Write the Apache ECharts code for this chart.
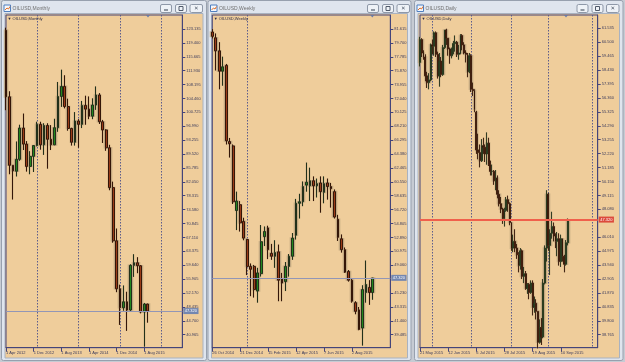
<!DOCTYPE html>
<html>
<head>
<meta charset="utf-8">
<script src="https://cdn.jsdelivr.net/npm/echarts@6/dist/echarts.min.js"></script>
<style>
  html, body { margin: 0; padding: 0; background: #c6cbd3; }
  #chart { width: 625px; height: 362px; }
</style>
</head>
<body>
<div id="chart"></div>
<script>
// tick labels
const monthTicks = ['1 Apr 2012', '1 Dec 2012', '1 Aug 2013', '1 Apr 2014', '1 Dec 2014', '1 Aug 2015'];
const weekTicks = ['26 Oct 2014', '21 Dec 2014', '15 Feb 2015', '12 Apr 2015', '7 Jun 2015', '2 Aug 2015'];
const dayTicks = ['21 May 2015', '12 Jun 2015', '6 Jul 2015', '28 Jul 2015', '19 Aug 2015', '10 Sep 2015'];

const monthLevels = [40.965, 44.700, 48.435, 52.170, 55.905, 59.640, 63.375, 67.110, 70.845, 74.580, 78.315,
  82.050, 85.785, 89.520, 93.255, 96.990, 100.725, 104.460, 108.195, 111.930, 115.665, 119.400, 123.135];
const weekLevels = [39.485, 41.400, 43.315, 45.230, 49.060, 50.975, 52.890, 54.805, 56.720, 58.635, 60.550,
  62.465, 64.380, 66.295, 68.210, 70.125, 72.040, 73.955, 75.870, 77.785, 79.700, 81.615];
const dayLevels = [38.765, 39.800, 40.835, 41.870, 42.905, 43.940, 44.975, 46.010, 48.080, 49.115, 50.150,
  51.185, 52.220, 53.255, 54.290, 55.325, 56.360, 57.395, 58.430, 59.465, 60.500, 61.535];

// bar index of the period separators (new year / new month)
const monthSeps = [9, 21, 33, 45];
const weekSeps = [10];
const daySeps = [7, 29, 52, 73, 98];

const bidPrice = 47.32;

// candles as [open, high, low, close]
const monthOHLC = [
  [122.8, 123.5, 101.3, 104.9], [104.9, 106.4, 84.1, 86.5], [86.5, 86.5, 77.3, 85.0], [84.9, 92.9, 83.5, 88.1],
  [88.1, 97.4, 87.7, 96.5], [96.5, 100.4, 90.6, 92.2], [92.2, 93.0, 84.8, 86.2], [86.2, 90.3, 84.1, 88.9],
  [88.9, 91.9, 84.7, 91.8], [91.8, 98.2, 91.6, 97.5], [97.5, 98.2, 90.7, 92.0], [92.0, 97.8, 89.3, 97.2],
  [97.2, 97.8, 85.6, 93.5], [93.5, 97.3, 90.6, 92.0], [92.0, 99.0, 91.9, 96.6], [96.6, 108.9, 95.5, 105.0],
  [105.0, 112.2, 102.2, 107.7], [107.7, 110.7, 101.8, 102.3], [102.3, 104.4, 95.8, 96.4], [96.4, 96.6, 91.8, 92.7],
  [92.7, 100.8, 91.8, 98.4], [98.4, 98.9, 91.2, 97.5], [97.5, 103.8, 96.5, 102.6], [102.6, 105.2, 97.4, 101.6],
  [101.6, 105.0, 98.9, 99.7], [99.7, 104.5, 98.9, 102.7], [102.7, 107.7, 101.4, 105.4], [105.4, 105.9, 97.6, 98.2],
  [98.2, 98.7, 92.5, 96.0], [96.0, 96.2, 90.4, 91.2], [91.2, 92.0, 79.8, 80.5], [80.5, 82.1, 65.7, 66.2],
  [66.2, 69.5, 52.4, 53.3], [53.3, 54.4, 43.6, 48.2], [48.2, 54.2, 47.4, 49.8], [49.8, 52.5, 42.0, 47.6],
  [47.6, 59.9, 47.1, 59.6], [59.6, 62.6, 56.5, 60.3], [60.3, 61.8, 57.5, 59.5], [59.5, 59.7, 46.7, 47.1],
  [47.1, 49.5, 37.75, 49.2], [49.2, 49.3, 44.2, 47.3]
];

const weekOHLC = [
  [81.2, 81.6, 80.3, 80.6], [80.4, 81.0, 75.9, 78.6], [78.6, 79.8, 73.3, 75.8], [75.8, 77.8, 73.8, 76.4],
  [76.6, 76.8, 65.7, 66.2], [66.1, 66.6, 63.9, 65.8], [65.5, 65.7, 57.5, 57.8], [56.6, 59.2, 53.9, 57.9],
  [57.4, 57.9, 53.7, 54.9], [55.1, 55.6, 52.5, 52.8], [52.6, 52.7, 47.7, 48.9], [48.9, 49.3, 44.8, 48.5],
  [48.9, 49.1, 44.6, 45.7], [45.5, 48.7, 43.9, 48.0], [47.9, 54.6, 47.5, 52.3], [53.0, 54.4, 51.7, 53.7],
  [54.2, 54.5, 49.9, 51.2], [50.7, 52.0, 49.8, 50.3], [50.3, 52.5, 48.7, 50.8], [50.9, 51.9, 44.1, 47.0],
  [47.2, 48.0, 44.1, 46.6], [46.8, 49.5, 45.5, 48.9], [48.9, 50.6, 47.5, 50.3], [50.3, 53.5, 49.8, 52.8],
  [53.2, 58.2, 52.6, 57.6], [57.6, 58.9, 55.5, 57.8], [57.8, 60.6, 57.2, 59.9], [60.1, 63.2, 59.2, 60.5],
  [60.0, 62.5, 57.9, 60.7], [60.7, 61.3, 57.9, 60.0], [60.0, 61.0, 58.4, 60.3], [60.4, 61.3, 56.3, 59.2],
  [59.1, 61.3, 57.6, 60.3], [60.4, 61.0, 58.1, 59.9], [59.9, 60.4, 57.0, 59.6], [59.2, 59.5, 55.5, 55.7],
  [55.4, 56.0, 52.4, 52.9], [52.7, 53.3, 50.8, 51.2], [51.2, 51.5, 48.0, 48.1], [48.2, 48.4, 46.8, 47.0],
  [47.0, 47.3, 43.9, 44.1], [43.9, 44.1, 42.3, 42.7], [42.9, 43.3, 40.1, 40.2], [40.4, 46.3, 37.98, 45.7],
  [45.3, 49.7, 43.9, 46.4], [46.0, 47.0, 43.6, 45.3], [45.3, 47.3, 44.3, 47.3]
];

const dayOHLC = [
  [59.0, 60.9, 58.7, 60.7], [60.7, 60.8, 59.4, 59.7], [59.7, 59.9, 59.2, 59.4], [59.4, 59.6, 57.6, 58.0],
  [58.0, 58.3, 57.1, 57.5], [57.5, 58.2, 57.0, 57.7], [57.7, 60.4, 57.6, 60.3], [60.3, 60.7, 59.6, 60.2],
  [60.2, 61.3, 59.5, 61.2], [61.2, 61.3, 59.4, 59.6], [59.6, 59.8, 57.8, 58.0], [58.0, 59.7, 57.2, 59.1],
  [59.1, 59.4, 57.9, 58.1], [58.1, 60.3, 58.0, 60.1], [60.1, 61.4, 60.0, 61.4], [61.4, 61.5, 60.3, 60.8],
  [60.8, 60.8, 59.5, 60.0], [60.0, 60.1, 58.9, 59.5], [59.5, 60.1, 59.3, 60.0], [60.0, 60.6, 59.6, 60.4],
  [60.4, 61.0, 59.8, 60.5], [60.5, 60.6, 59.4, 59.6], [59.6, 60.3, 59.2, 59.7], [59.7, 61.1, 59.6, 61.0],
  [61.0, 61.1, 59.9, 60.3], [60.3, 60.5, 59.6, 59.7], [59.7, 59.9, 59.0, 59.6], [59.6, 59.7, 57.9, 58.3],
  [58.3, 59.7, 58.2, 59.5], [59.5, 59.6, 56.8, 57.0], [57.0, 57.5, 56.5, 56.9], [56.9, 57.0, 55.3, 55.5],
  [55.3, 55.4, 52.2, 52.5], [52.5, 53.7, 51.8, 52.3], [52.3, 52.9, 51.2, 51.7], [51.7, 53.3, 51.6, 52.8],
  [52.8, 53.4, 52.2, 52.7], [52.7, 52.9, 51.6, 52.2], [52.2, 53.8, 51.4, 53.0], [53.0, 53.4, 51.3, 51.4],
  [51.4, 51.7, 50.6, 50.9], [50.9, 51.4, 50.6, 50.9], [50.9, 51.0, 49.9, 50.2], [50.2, 51.0, 49.5, 50.4],
  [50.4, 50.6, 48.9, 49.2], [49.2, 49.5, 48.3, 48.5], [48.5, 49.0, 47.8, 48.1], [48.1, 48.2, 47.0, 47.4],
  [47.4, 48.2, 46.8, 48.0], [48.0, 49.0, 47.9, 48.8], [48.8, 49.1, 47.9, 48.5], [48.5, 48.6, 46.9, 47.1],
  [47.1, 47.1, 45.0, 45.2], [45.2, 46.2, 44.9, 45.7], [45.7, 46.6, 44.9, 45.2], [45.2, 45.5, 44.4, 44.7],
  [44.7, 44.9, 43.4, 43.9], [43.9, 45.2, 43.6, 45.0], [45.0, 45.1, 42.9, 43.1], [43.1, 43.8, 42.6, 43.3],
  [43.3, 43.5, 42.1, 42.2], [42.2, 42.6, 41.8, 42.5], [42.5, 42.6, 41.4, 41.9], [41.9, 42.8, 41.8, 42.6],
  [42.6, 42.8, 40.2, 40.8], [40.8, 41.6, 40.4, 41.1], [41.1, 41.4, 39.9, 40.5], [40.5, 40.5, 37.75, 38.2],
  [38.2, 39.9, 38.1, 39.3], [39.3, 40.0, 38.0, 38.6], [38.6, 42.9, 38.5, 42.6], [42.6, 45.4, 42.5, 45.2],
  [45.2, 49.5, 44.2, 49.2], [49.2, 49.3, 45.0, 45.4], [45.4, 46.6, 43.2, 46.3], [46.3, 47.9, 45.9, 46.8],
  [46.8, 47.1, 45.7, 46.1], [46.1, 46.3, 45.2, 45.7], [45.7, 46.4, 44.6, 45.9], [45.9, 46.3, 43.9, 44.2],
  [44.2, 46.2, 43.8, 45.9], [45.9, 45.9, 44.2, 44.6], [44.6, 44.7, 43.4, 44.0], [44.0, 45.8, 43.9, 45.6],
  [45.6, 47.4, 45.4, 47.3]
];

const TAN = '#efcd9b';
const FG = '#45457a';
const LABEL = '#3b3b5c';
const FONT = 'Liberation Sans';

// echarts candlestick wants [open, close, low, high]
function toEc(rows) {
  return rows.map(r => [r[0], r[3], r[2], r[1]]);
}

const panels = [
  { left: 6, width: 176.3, cats: 52, step: 8, ticks: monthTicks, seps: monthSeps, levels: monthLevels,
    min: 37.471, max: 126.898, rows: monthOHLC, barWidth: 2.2, red: false },
  { left: 212.3, width: 178, cats: 52, step: 8, ticks: weekTicks, seps: weekSeps, levels: weekLevels,
    min: 37.693, max: 83.544, rows: weekOHLC, barWidth: 2.2, red: false },
  { left: 420, width: 177.7, cats: 102, step: 16, ticks: dayTicks, seps: daySeps, levels: dayLevels,
    min: 37.799, max: 62.523, rows: dayOHLC, barWidth: 1.4, red: true }
];

const grids = [], xAxes = [], yAxes = [], series = [];

panels.forEach((p, k) => {
  grids.push({
    left: p.left, top: 15, width: p.width, height: 332.7,
    show: true, borderColor: FG, borderWidth: 1, backgroundColor: 'transparent',
    outerBoundsMode: 'none'
  });
  const showTick = idx => idx % p.step === 0 && idx / p.step < p.ticks.length;
  xAxes.push({
    type: 'category', gridIndex: k, boundaryGap: false,
    data: Array.from({ length: p.cats }, (_, i) => i),
    axisLine: { lineStyle: { color: FG, width: 1 } },
    axisTick: { show: true, interval: showTick, length: 4, lineStyle: { color: FG } },
    axisLabel: {
      interval: showTick, align: 'left', margin: 3, fontSize: 4, fontFamily: FONT, color: LABEL,
      formatter: (v, idx) => p.ticks[idx / p.step]
    },
    splitLine: {
      show: true, interval: idx => p.seps.indexOf(idx) >= 0,
      lineStyle: { color: '#5c5c8c', width: 1, type: [1.5, 1.5] }
    }
  });
  yAxes.push({
    type: 'value', gridIndex: k, position: 'right', min: p.min, max: p.max,
    axisLine: { show: true, lineStyle: { color: FG, width: 1 } },
    axisTick: { show: true, length: 3, customValues: p.levels, lineStyle: { color: FG } },
    axisLabel: {
      customValues: p.levels, margin: 4, fontSize: 4, fontFamily: FONT, color: LABEL,
      formatter: v => v.toFixed(3)
    },
    splitLine: { show: false }
  });
  // faint wider copy underneath: the light wick/outline shadow seen around each bar
  series.push({
    type: 'candlestick', xAxisIndex: k, yAxisIndex: k, z: 1,
    data: toEc(p.rows), barWidth: p.barWidth + 1.6, clip: true, silent: true,
    itemStyle: {
      color: '#b9a27c', color0: '#b9a27c',
      borderColor: '#b9a27c', borderColor0: '#b9a27c', borderWidth: 1.6, opacity: 0.75
    }
  });
  series.push({
    type: 'candlestick', xAxisIndex: k, yAxisIndex: k, z: 2,
    data: toEc(p.rows), barWidth: p.barWidth, clip: true,
    itemStyle: {
      color: '#23871f', color0: '#9a3c18',
      borderColor: '#22301a', borderColor0: '#341608',
      borderWidth: p.red ? 0.9 : 1
    },
    markLine: {
      silent: true, symbol: 'none', animation: false,
      data: [{ yAxis: bidPrice }],
      lineStyle: p.red ? { color: '#f0604c', width: 2, type: 'solid' } : { color: '#9296b6', width: 1, type: 'solid' },
      label: {
        show: true, position: 'end', distance: 1, formatter: bidPrice.toFixed(3),
        fontSize: 4, fontFamily: FONT, color: '#ffffff', padding: [1, 1.5],
        backgroundColor: p.red ? '#dc4a3c' : '#7487b0'
      }
    }
  });
});

// MT4 window chrome around each chart
const wins = [
  { x: 1, w: 205, title: 'OILUSD,Monthly', btn: 160.5, mark: 148 },
  { x: 207.5, w: 203, title: 'OILUSD,Weekly', btn: 367.5, mark: 372.3 },
  { x: 414, w: 208.5, title: 'OILUSD,Daily', btn: 577, mark: 566 }
];
const graphics = [];
wins.forEach((w, k) => {
  const pl = panels[k].left;
  graphics.push(
    { type: 'rect', z: -20, shape: { x: w.x + 0.5, y: 0.5, width: w.w, height: 360, r: 2 },
      style: { fill: '#dfe5ee', stroke: '#97a0ae', lineWidth: 1 } },
    { type: 'rect', z: -19, shape: { x: w.x + 4, y: 13.5, width: w.w - 7, height: 344.5 },
      style: { fill: TAN, stroke: '#a9b2c0', lineWidth: 1 } },
    // window icon
    { type: 'rect', z: 50, shape: { x: w.x + 3, y: 5, width: 6.5, height: 6.5 },
      style: { fill: '#f3f7fc', stroke: '#4f7fbf', lineWidth: 1 } },
    { type: 'polyline', z: 51, shape: { points: [[w.x + 4, 10], [w.x + 6, 8], [w.x + 7.5, 9], [w.x + 9, 6.5]] },
      style: { stroke: '#e0702a', lineWidth: 1, fill: null } },
    { type: 'text', z: 50, x: w.x + 11.5, y: 8.3,
      style: { text: w.title, fontSize: 5, fontFamily: FONT, fill: '#707070', verticalAlign: 'middle' } },
    // inner chart label
    { type: 'text', z: 50, x: pl + 1.5, y: 18.7,
      style: { text: '\u25BC ' + w.title, fontSize: 4, fontFamily: FONT, fill: '#2e2e48', verticalAlign: 'middle' } },
    // chart shift marker
    { type: 'polygon', z: 50, shape: { points: [[w.mark - 2, 15], [w.mark + 2, 15], [w.mark, 17.5]] },
      style: { fill: '#6a7aa6' } }
  );
  const bx = [w.btn, w.btn + 15, w.btn + 29.5];
  bx.forEach((x0, j) => {
    graphics.push({ type: 'rect', z: 50, shape: { x: x0, y: 4.5, width: j === 2 ? 12.5 : 11, height: 8, r: 1.5 },
      style: { fill: '#eef2f7', stroke: '#8e98a8', lineWidth: 1 } });
  });
  graphics.push(
    { type: 'line', z: 51, shape: { x1: bx[0] + 3.5, y1: 10, x2: bx[0] + 7.5, y2: 10 }, style: { stroke: '#505a6a', lineWidth: 1.2 } },
    { type: 'rect', z: 51, shape: { x: bx[1] + 3.5, y: 6.5, width: 4, height: 4 }, style: { fill: null, stroke: '#505a6a', lineWidth: 1 } },
    { type: 'text', z: 51, x: bx[2] + 6.25, y: 8.6,
      style: { text: '\u2715', fontSize: 5.5, fontFamily: 'DejaVu Sans', fill: '#505a6a', align: 'center', verticalAlign: 'middle' } }
  );
});

const chart = echarts.init(document.getElementById('chart'));
chart.setOption({
  animation: false,
  backgroundColor: '#c6cbd3',
  grid: grids,
  xAxis: xAxes,
  yAxis: yAxes,
  series: series,
  graphic: graphics
});
</script>
</body>
</html>
